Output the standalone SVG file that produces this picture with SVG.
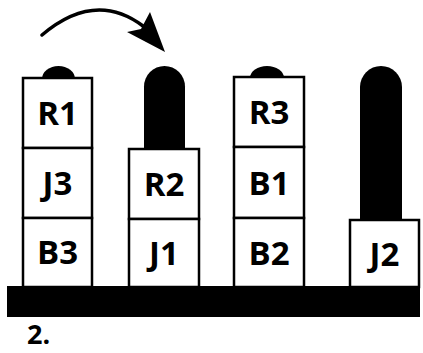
<svg xmlns="http://www.w3.org/2000/svg" width="423" height="353" viewBox="0 0 423 353">
<style>
.box{fill:#fff;stroke:#000;stroke-width:2.5}
.blk{fill:#000}
.lbl{font-family:"Open Sans","Liberation Sans",sans-serif;font-weight:bold;font-size:33px;text-anchor:middle;fill:#000}
</style>
<rect width="423" height="353" fill="#fff"/>
<g id="connectors">
<path d="M42,35 Q95,-10 143,26" fill="none" stroke="#000" stroke-width="3.5" stroke-linecap="round"/>
<polygon class="blk" points="165,52 127,32 141,29 150,12"/>
</g>
<g id="base"><rect class="blk" x="7" y="286" width="413" height="31"/></g>
<g id="peg1"><path class="blk" d="M42,79 A16.5,13 0 0 1 75,79 Z"/></g>
<g id="R1"><rect class="box" x="23" y="78" width="69" height="70"/><text class="lbl" x="57.5" y="125">R1</text></g>
<g id="J3"><rect class="box" x="23" y="148" width="69" height="70"/><text class="lbl" x="57.5" y="195">J3</text></g>
<g id="B3"><rect class="box" x="23" y="218" width="69" height="69"/><text class="lbl" x="57.5" y="264">B3</text></g>
<g id="peg2"><path class="blk" d="M144,150 V86.5 A20.5,20.5 0 0 1 185,86.5 V150 Z"/></g>
<g id="R2"><rect class="box" x="129" y="149" width="70" height="70"/><text class="lbl" x="164" y="196">R2</text></g>
<g id="J1"><rect class="box" x="129" y="219" width="70" height="68"/><text class="lbl" x="164" y="265">J1</text></g>
<g id="peg3"><path class="blk" d="M250,78 A17,12 0 0 1 284,78 Z"/></g>
<g id="R3"><rect class="box" x="234" y="77" width="70" height="70"/><text class="lbl" x="269" y="124">R3</text></g>
<g id="B1"><rect class="box" x="234" y="147" width="70" height="71"/><text class="lbl" x="269" y="195">B1</text></g>
<g id="B2"><rect class="box" x="234" y="218" width="70" height="69"/><text class="lbl" x="269" y="265">B2</text></g>
<g id="peg4"><path class="blk" d="M360,221 V87 A21,21 0 0 1 402,87 V221 Z"/></g>
<g id="J2"><rect class="box" x="350" y="220" width="69" height="67"/><text class="lbl" x="384.5" y="266">J2</text></g>
<g id="caption"><text x="27" y="344" style="font-family:'Open Sans','Liberation Sans',sans-serif;font-weight:bold;font-size:27px">2.</text></g>
</svg>
